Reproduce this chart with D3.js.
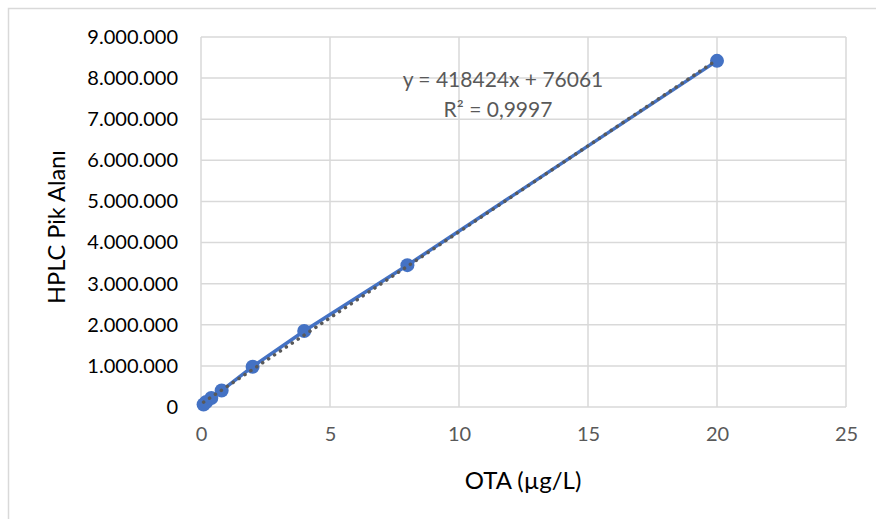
<html>
<head>
<meta charset="utf-8" />
<script src="https://cdn.jsdelivr.net/npm/d3@7"></script>
<style>
body { margin: 0; background: #fff; }
text { font-family: Lato, "Open Sans", sans-serif; }
</style>
</head>
<body>
<svg id="chart" width="876" height="519"></svg>
<script>

// data
var otaValues = [0.1, 0.2, 0.4, 0.8, 2, 4, 8, 20];
var areaValues = [60000, 120000, 220000, 400000, 980000, 1850000, 3450000, 8420000];
var xTicks = [0, 5, 10, 15, 20, 25];
var yTicks = [0, 1000000, 2000000, 3000000, 4000000, 5000000, 6000000, 7000000, 8000000, 9000000];
var slope = 418424;
var intercept = 76061;
var eqLines = ["y = 418424x + 76061", "R² = 0,9997"];

var margin = {top: 37, right: 30, bottom: 112, left: 201};
var svgWidth = 876, svgHeight = 519;
var width = 846 - margin.left;
var height = 407 - margin.top;

var svg = d3.select("#chart");

// chart area border (only top/left are inside the picture)
svg.append("rect")
  .attr("x", 8.5).attr("y", 8.5)
  .attr("width", 1000).attr("height", 1000)
  .attr("fill", "none")
  .attr("stroke", "#d9d9d9")
  .attr("stroke-width", 1.5);

var g = svg.append("g").attr("transform", "translate(" + margin.left + "," + margin.top + ")");

var x = d3.scaleLinear().domain([0, 25]).range([0, width]);
var y = d3.scaleLinear().domain([0, 9000000]).range([height, 0]);

var fmt = function(d) {
  return d3.format(",")(d).replace(/,/g, ".");
};

// grid
g.append("g")
  .selectAll("line.h")
  .data(yTicks)
  .enter().append("line")
  .attr("x1", 0).attr("x2", width)
  .attr("y1", d => y(d)).attr("y2", d => y(d))
  .attr("stroke", "#d9d9d9").attr("stroke-width", 1.5);

g.append("g")
  .selectAll("line.v")
  .data(xTicks)
  .enter().append("line")
  .attr("x1", d => x(d)).attr("x2", d => x(d))
  .attr("y1", 0).attr("y2", height)
  .attr("stroke", "#d9d9d9").attr("stroke-width", 1.5);

// axes (labels only)
var yAxis = g.append("g")
  .call(d3.axisLeft(y).tickValues(yTicks).tickFormat(fmt).tickSize(0).tickPadding(23));
yAxis.select(".domain").remove();
yAxis.selectAll("text")
  .attr("fill", "#000")
  .style("font-size", "20px");

var xAxis = g.append("g")
  .attr("transform", "translate(0," + height + ")")
  .call(d3.axisBottom(x).tickValues(xTicks).tickSize(0).tickPadding(20));
xAxis.select(".domain").remove();
xAxis.selectAll("text")
  .attr("fill", "#595959")
  .style("font-size", "20px");

// axis titles
svg.append("text")
  .attr("transform", "translate(65,227) rotate(-90)")
  .attr("text-anchor", "middle")
  .attr("fill", "#000")
  .style("font-size", "23.5px")
  .text("HPLC Pik Alanı");

svg.append("text")
  .attr("x", 523)
  .attr("y", 489)
  .attr("text-anchor", "middle")
  .attr("fill", "#000")
  .style("font-size", "24px")
  .text("OTA (µg/L)");

var pts = otaValues.map((d, i) => [d, areaValues[i]]);

// series line
var line = d3.line().x(d => x(d[0])).y(d => y(d[1]));
g.append("path")
  .datum(pts)
  .attr("d", line)
  .attr("fill", "none")
  .attr("stroke", "#4472c4")
  .attr("stroke-width", 3.5);

// markers
g.selectAll("circle")
  .data(pts)
  .enter().append("circle")
  .attr("cx", d => x(d[0]))
  .attr("cy", d => y(d[1]))
  .attr("r", 7)
  .attr("fill", "#4472c4");

// linear trendline
var xMin = d3.min(otaValues), xMax = d3.max(otaValues);
var trend = [[xMin, slope * xMin + intercept], [xMax, slope * xMax + intercept]];
g.append("path")
  .datum(trend)
  .attr("d", line)
  .attr("fill", "none")
  .attr("stroke", "#595959")
  .attr("stroke-width", 3.5)
  .attr("stroke-linecap", "round")
  .attr("stroke-dasharray", "0.1 7");

// equation
svg.append("g")
  .selectAll("text")
  .data(eqLines)
  .enter().append("text")
  .attr("x", (d, i) => i == 0 ? 503 : 498)
  .attr("y", (d, i) => 87 + i * 30)
  .attr("text-anchor", "middle")
  .attr("fill", "#595959")
  .style("font-size", "21px")
  .text(d => d);

</script>
</body>
</html>
